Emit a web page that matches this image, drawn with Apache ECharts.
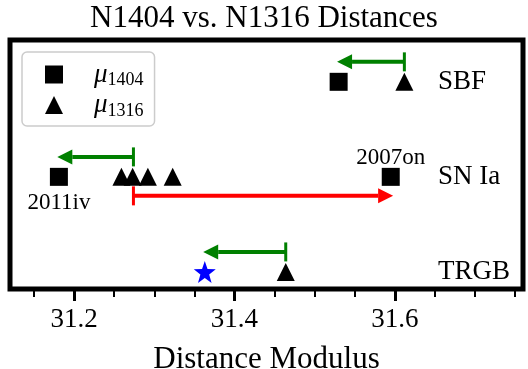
<!DOCTYPE html>
<html>
<head>
<meta charset="utf-8">
<script src="https://cdn.jsdelivr.net/npm/echarts@6/dist/echarts.min.js"></script>
<style>
  html, body { margin: 0; padding: 0; background: #fff; }
  #chart { width: 528px; height: 369px; }
</style>
</head>
<body>
<div id="chart"></div>
<script>
// rows of the plot, bottom to top
var rows = ['TRGB', 'SN Ia', 'SBF'];

// mu_1404 (squares)
var sqX = [31.530, 31.181, 31.595];
var sqRow = [2, 1, 1];
var sqNames = ['', '2011iv', '2007on'];

// mu_1316 (triangles)
var triX = [31.612, 31.259, 31.273, 31.292, 31.323, 31.464];
var triRow = [2, 1, 1, 1, 1, 0];

// TRGB star
var starX = [31.363];
var starRow = [0];

// green arrows (N1316 -> N1404)
var gStart = [31.612, 31.274, 31.464];
var gEnd = [31.528, 31.179, 31.361];
var gRow = [2, 1, 0];

// red arrow
var rStart = [31.274];
var rEnd = [31.598];
var rRow = [1];

var majorTicks = [31.2, 31.4, 31.6];
var minorTicks = [31.15, 31.25, 31.3, 31.35, 31.45, 31.5, 31.55, 31.65, 31.7, 31.75];

var FONT = "'Liberation Serif', 'DejaVu Serif', serif";
var xMin = 31.12, xMax = 31.76;

function arrowData(s, e, r, off) {
  var out = [];
  for (var i = 0; i < s.length; i++) out.push([s[i], e[i], r[i] + off]);
  return out;
}

function renderArrow(color) {
  return function (params, api) {
    var y = api.value(2);
    var p0 = api.coord([api.value(0), y]);
    var p1 = api.coord([api.value(1), y]);
    var dir = p1[0] > p0[0] ? 1 : -1;
    var hl = 15, hw = 7.5;
    var bx = p1[0] - dir * hl;
    return {
      type: 'group',
      children: [
        { type: 'line', shape: { x1: p0[0], y1: p0[1], x2: bx, y2: p1[1] },
          style: { stroke: color, lineWidth: 4 } },
        { type: 'polygon', shape: { points: [[p1[0], p1[1]], [bx, p1[1] - hw], [bx, p1[1] + hw]] },
          style: { fill: color } },
        { type: 'line', shape: { x1: p0[0], y1: p0[1] - 9.5, x2: p0[0], y2: p0[1] + 9.5 },
          style: { stroke: color, lineWidth: 3 } }
      ]
    };
  };
}

var chart = echarts.init(document.getElementById('chart'));

var sqData = sqX.map(function (x, i) {
  var d = { value: [x, sqRow[i]] };
  if (sqNames[i]) {
    d.label = {
      show: true, formatter: sqNames[i],
      position: i === 1 ? 'bottom' : 'top', distance: i === 1 ? 6 : -2,
      fontFamily: FONT, fontSize: 23, color: '#000'
    };
  }
  return d;
});

chart.setOption({
  animation: false,
  title: {
    text: 'N1404 vs. N1316 Distances',
    left: 'center', top: -2,
    textStyle: { fontFamily: FONT, fontSize: 31, fontWeight: 'normal', color: '#000' }
  },
  grid: {
    left: 10, top: 40, width: 513, height: 249,
    outerBoundsMode: 'none', containLabel: false,
    show: true, borderColor: '#000', borderWidth: 5, backgroundColor: 'transparent'
  },
  legend: {
    orient: 'vertical', left: 22, top: 52,
    padding: [9, 11, 6, 23], itemGap: 2,
    itemWidth: 18, itemHeight: 18,
    backgroundColor: '#fff', borderColor: '#ccc', borderWidth: 1.5, borderRadius: 5,
    data: [{ name: 'mu1404', icon: 'rect' }, { name: 'mu1316', icon: 'triangle' }],
    formatter: function (n) { return '{m|μ}{s|' + n.slice(2) + '}'; },
    textStyle: {
      rich: {
        m: { fontFamily: FONT, fontStyle: 'italic', fontSize: 27, lineHeight: 30, padding: [0, 0, 0, 26], color: '#000' },
        s: { fontFamily: FONT, fontSize: 18, lineHeight: 30, verticalAlign: 'bottom', padding: [10, 0, 0, 0], color: '#000' }
      }
    }
  },
  xAxis: [{
    type: 'value', min: xMin, max: xMax,
    name: 'Distance Modulus', nameLocation: 'middle', nameGap: 55,
    nameTextStyle: { fontFamily: FONT, fontSize: 31, color: '#000' },
    axisLine: { show: false, onZero: false },
    splitLine: { show: false },
    axisTick: { show: true, inside: false, customValues: majorTicks, length: 12, lineStyle: { color: '#000', width: 3 } },
    axisLabel: {
      customValues: majorTicks, margin: 17,
      fontFamily: FONT, fontSize: 27, color: '#000',
      formatter: function (v) { return v.toFixed(1); }
    }
  }, {
    type: 'value', min: xMin, max: xMax, position: 'bottom',
    axisLine: { show: false, onZero: false }, splitLine: { show: false },
    axisLabel: { show: false },
    axisTick: { show: true, inside: false, customValues: minorTicks, length: 8, lineStyle: { color: '#000', width: 2 } }
  }],
  yAxis: {
    type: 'value', min: -0.18, max: 2.44, position: 'right',
    axisLine: { show: false, onZero: false }, axisTick: { show: false }, splitLine: { show: false },
    axisLabel: {
      customValues: [0, 1, 2], inside: true, margin: 85, align: 'left',
      padding: [0, 0, 20, 0],
      fontFamily: FONT, fontSize: 27, color: '#000',
      formatter: function (v) { return rows[Math.round(v)]; }
    }
  },
  series: [
    { type: 'custom', name: 'green', renderItem: renderArrow('#008000'),
      data: arrowData(gStart, gEnd, gRow, 0.21), z: 1 },
    { type: 'custom', name: 'red', renderItem: renderArrow('#ff0000'),
      data: arrowData(rStart, rEnd, rRow, -0.2), z: 1 },
    { type: 'scatter', name: 'mu1404', symbol: 'rect', symbolSize: 18,
      itemStyle: { color: '#000', opacity: 1, borderRadius: 2 }, data: sqData, z: 3 },
    { type: 'scatter', name: 'mu1316', symbol: 'triangle', symbolSize: [18, 18],
      itemStyle: { color: '#000', opacity: 1 },
      data: triX.map(function (x, i) { return [x, triRow[i]]; }), z: 3 },
    { type: 'scatter', name: 'star', symbol: 'path://M0,-10 L2.35,-3.24 L9.51,-3.09 L3.8,1.24 L5.88,8.09 L0,4 L-5.88,8.09 L-3.8,1.24 L-9.51,-3.09 L-2.35,-3.24 Z',
      symbolSize: 22, itemStyle: { color: '#0000ff', opacity: 1 },
      data: starX.map(function (x, i) { return [x, starRow[i]]; }), z: 3 }
  ]
});
</script>
</body>
</html>
